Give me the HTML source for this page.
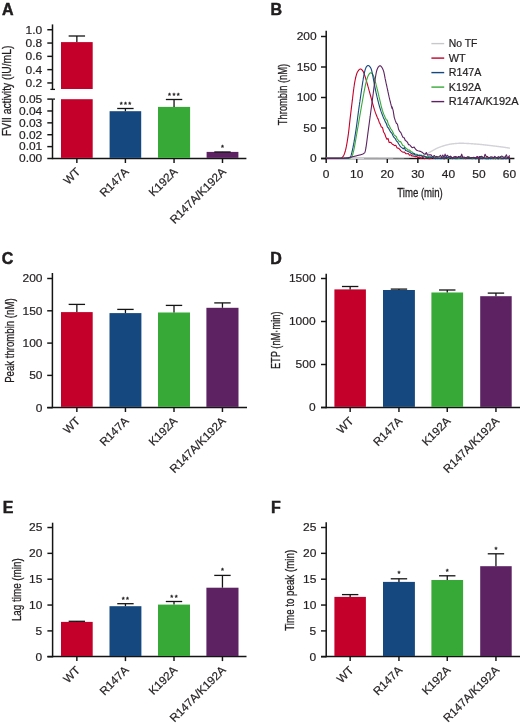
<!DOCTYPE html>
<html><head><meta charset="utf-8"><style>
html,body{margin:0;padding:0;background:#fff;}
body{width:520px;height:725px;overflow:hidden;}
svg{display:block;will-change:transform;}
text{font-family:"Liberation Sans",sans-serif;}
</style></head><body>
<svg width="520" height="725" viewBox="0 0 520 725" font-family="Liberation Sans, sans-serif" fill="#231f20">
<rect width="520" height="725" fill="#fff"/>
<text x="2.00" y="15.00" font-size="16" text-anchor="start" font-weight="bold" stroke="#111" stroke-width="0.45">A</text>
<line x1="52.50" y1="24.40" x2="52.50" y2="89.40" stroke="#141414" stroke-width="1.5"/>
<line x1="50.40" y1="89.40" x2="55.00" y2="89.40" stroke="#141414" stroke-width="1.3"/>
<line x1="52.50" y1="99.10" x2="52.50" y2="159.20" stroke="#141414" stroke-width="1.5"/>
<line x1="52.50" y1="99.10" x2="55.00" y2="99.10" stroke="#141414" stroke-width="1.3"/>
<line x1="47.30" y1="158.50" x2="246.40" y2="158.50" stroke="#141414" stroke-width="1.5"/>
<line x1="47.30" y1="29.75" x2="52.50" y2="29.75" stroke="#141414" stroke-width="1.45"/>
<text x="42.30" y="33.60" font-size="11.2" text-anchor="end" textLength="16.66" lengthAdjust="spacingAndGlyphs" stroke="#231f20" stroke-width="0.2">1.0</text>
<line x1="47.30" y1="43.05" x2="52.50" y2="43.05" stroke="#141414" stroke-width="1.45"/>
<text x="42.30" y="46.90" font-size="11.2" text-anchor="end" textLength="16.66" lengthAdjust="spacingAndGlyphs" stroke="#231f20" stroke-width="0.2">0.8</text>
<line x1="47.30" y1="56.35" x2="52.50" y2="56.35" stroke="#141414" stroke-width="1.45"/>
<text x="42.30" y="60.20" font-size="11.2" text-anchor="end" textLength="16.66" lengthAdjust="spacingAndGlyphs" stroke="#231f20" stroke-width="0.2">0.6</text>
<line x1="47.30" y1="69.65" x2="52.50" y2="69.65" stroke="#141414" stroke-width="1.45"/>
<text x="42.30" y="73.50" font-size="11.2" text-anchor="end" textLength="16.66" lengthAdjust="spacingAndGlyphs" stroke="#231f20" stroke-width="0.2">0.4</text>
<line x1="47.30" y1="82.95" x2="52.50" y2="82.95" stroke="#141414" stroke-width="1.45"/>
<text x="42.30" y="86.80" font-size="11.2" text-anchor="end" textLength="16.66" lengthAdjust="spacingAndGlyphs" stroke="#231f20" stroke-width="0.2">0.2</text>
<line x1="47.30" y1="99.10" x2="52.50" y2="99.10" stroke="#141414" stroke-width="1.45"/>
<text x="42.30" y="102.95" font-size="11.2" text-anchor="end" textLength="23.32" lengthAdjust="spacingAndGlyphs" stroke="#231f20" stroke-width="0.2">0.05</text>
<line x1="47.30" y1="110.98" x2="52.50" y2="110.98" stroke="#141414" stroke-width="1.45"/>
<text x="42.30" y="114.83" font-size="11.2" text-anchor="end" textLength="23.32" lengthAdjust="spacingAndGlyphs" stroke="#231f20" stroke-width="0.2">0.04</text>
<line x1="47.30" y1="122.86" x2="52.50" y2="122.86" stroke="#141414" stroke-width="1.45"/>
<text x="42.30" y="126.71" font-size="11.2" text-anchor="end" textLength="23.32" lengthAdjust="spacingAndGlyphs" stroke="#231f20" stroke-width="0.2">0.03</text>
<line x1="47.30" y1="134.74" x2="52.50" y2="134.74" stroke="#141414" stroke-width="1.45"/>
<text x="42.30" y="138.59" font-size="11.2" text-anchor="end" textLength="23.32" lengthAdjust="spacingAndGlyphs" stroke="#231f20" stroke-width="0.2">0.02</text>
<line x1="47.30" y1="146.62" x2="52.50" y2="146.62" stroke="#141414" stroke-width="1.45"/>
<text x="42.30" y="150.47" font-size="11.2" text-anchor="end" textLength="23.32" lengthAdjust="spacingAndGlyphs" stroke="#231f20" stroke-width="0.2">0.01</text>
<text x="42.30" y="162.35" font-size="11.2" text-anchor="end" textLength="23.32" lengthAdjust="spacingAndGlyphs" stroke="#231f20" stroke-width="0.2">0.00</text>
<rect x="61.00" y="42.10" width="31.70" height="46.90" fill="#c4002a"/>
<rect x="61.00" y="99.20" width="31.70" height="58.70" fill="#c4002a"/>
<line x1="76.85" y1="42.10" x2="76.85" y2="36.00" stroke="#141414" stroke-width="1.3"/>
<line x1="68.65" y1="36.00" x2="85.05" y2="36.00" stroke="#141414" stroke-width="1.3"/>
<rect x="109.60" y="111.20" width="31.60" height="46.70" fill="#14487e"/>
<line x1="125.40" y1="111.20" x2="125.40" y2="108.50" stroke="#141414" stroke-width="1.3"/>
<line x1="117.20" y1="108.50" x2="133.60" y2="108.50" stroke="#141414" stroke-width="1.3"/>
<rect x="158.00" y="106.90" width="32.10" height="51.00" fill="#37a936"/>
<line x1="174.05" y1="106.90" x2="174.05" y2="99.50" stroke="#141414" stroke-width="1.3"/>
<line x1="165.85" y1="99.50" x2="182.25" y2="99.50" stroke="#141414" stroke-width="1.3"/>
<rect x="206.60" y="151.90" width="31.80" height="6.00" fill="#5c2262"/>
<line x1="222.50" y1="151.90" x2="222.50" y2="152.00" stroke="#141414" stroke-width="1.3"/>
<line x1="214.30" y1="152.00" x2="230.70" y2="152.00" stroke="#141414" stroke-width="1.3"/>
<line x1="76.85" y1="158.50" x2="76.85" y2="163.00" stroke="#141414" stroke-width="1.45"/>
<text transform="translate(80.95,172.50) rotate(-45)" x="0" y="0" font-size="11.6" text-anchor="end" stroke="#231f20" stroke-width="0.2">WT</text>
<line x1="125.40" y1="158.50" x2="125.40" y2="163.00" stroke="#141414" stroke-width="1.45"/>
<text transform="translate(129.50,172.50) rotate(-45)" x="0" y="0" font-size="11.6" text-anchor="end" stroke="#231f20" stroke-width="0.2">R147A</text>
<line x1="174.05" y1="158.50" x2="174.05" y2="163.00" stroke="#141414" stroke-width="1.45"/>
<text transform="translate(178.15,172.50) rotate(-45)" x="0" y="0" font-size="11.6" text-anchor="end" stroke="#231f20" stroke-width="0.2">K192A</text>
<line x1="222.50" y1="158.50" x2="222.50" y2="163.00" stroke="#141414" stroke-width="1.45"/>
<text transform="translate(226.60,172.50) rotate(-45)" x="0" y="0" font-size="11.6" text-anchor="end" stroke="#231f20" stroke-width="0.2">R147A/K192A</text>
<text x="121.20" y="107.05" font-size="7.6" text-anchor="middle" stroke="#231f20" stroke-width="0.35">*</text>
<text x="125.50" y="107.05" font-size="7.6" text-anchor="middle" stroke="#231f20" stroke-width="0.35">*</text>
<text x="129.80" y="107.05" font-size="7.6" text-anchor="middle" stroke="#231f20" stroke-width="0.35">*</text>
<text x="169.60" y="97.75" font-size="7.6" text-anchor="middle" stroke="#231f20" stroke-width="0.35">*</text>
<text x="173.90" y="97.75" font-size="7.6" text-anchor="middle" stroke="#231f20" stroke-width="0.35">*</text>
<text x="178.20" y="97.75" font-size="7.6" text-anchor="middle" stroke="#231f20" stroke-width="0.35">*</text>
<text x="222.50" y="150.15" font-size="7.6" text-anchor="middle" stroke="#231f20" stroke-width="0.35">*</text>
<text transform="translate(11.30,90.85) rotate(-90)" x="0" y="0" font-size="13" text-anchor="middle" stroke="#231f20" stroke-width="0.3" textLength="90.30" lengthAdjust="spacingAndGlyphs">FVII activity (IU/mL)</text>
<text x="270.60" y="15.00" font-size="16" text-anchor="start" font-weight="bold" stroke="#111" stroke-width="0.45">B</text>
<line x1="326.20" y1="30.80" x2="326.20" y2="159.20" stroke="#141414" stroke-width="1.5"/>
<line x1="321.00" y1="158.50" x2="514.40" y2="158.50" stroke="#141414" stroke-width="1.5"/>
<line x1="321.00" y1="36.50" x2="326.20" y2="36.50" stroke="#141414" stroke-width="1.45"/>
<text x="316.70" y="40.35" font-size="11.2" text-anchor="end" textLength="19.99" lengthAdjust="spacingAndGlyphs" stroke="#231f20" stroke-width="0.2">200</text>
<line x1="321.00" y1="67.00" x2="326.20" y2="67.00" stroke="#141414" stroke-width="1.45"/>
<text x="316.70" y="70.85" font-size="11.2" text-anchor="end" textLength="19.99" lengthAdjust="spacingAndGlyphs" stroke="#231f20" stroke-width="0.2">150</text>
<line x1="321.00" y1="97.50" x2="326.20" y2="97.50" stroke="#141414" stroke-width="1.45"/>
<text x="316.70" y="101.35" font-size="11.2" text-anchor="end" textLength="19.99" lengthAdjust="spacingAndGlyphs" stroke="#231f20" stroke-width="0.2">100</text>
<line x1="321.00" y1="128.00" x2="326.20" y2="128.00" stroke="#141414" stroke-width="1.45"/>
<text x="316.70" y="131.85" font-size="11.2" text-anchor="end" textLength="13.33" lengthAdjust="spacingAndGlyphs" stroke="#231f20" stroke-width="0.2">50</text>
<line x1="321.00" y1="158.50" x2="326.20" y2="158.50" stroke="#141414" stroke-width="1.45"/>
<text x="316.70" y="162.35" font-size="11.2" text-anchor="end" textLength="6.66" lengthAdjust="spacingAndGlyphs" stroke="#231f20" stroke-width="0.2">0</text>
<line x1="326.20" y1="158.50" x2="326.20" y2="163.00" stroke="#141414" stroke-width="1.45"/>
<text x="326.20" y="178.40" font-size="11.2" text-anchor="middle" textLength="6.66" lengthAdjust="spacingAndGlyphs" stroke="#231f20" stroke-width="0.2">0</text>
<line x1="356.75" y1="158.50" x2="356.75" y2="163.00" stroke="#141414" stroke-width="1.45"/>
<text x="356.75" y="178.40" font-size="11.2" text-anchor="middle" textLength="13.33" lengthAdjust="spacingAndGlyphs" stroke="#231f20" stroke-width="0.2">10</text>
<line x1="387.30" y1="158.50" x2="387.30" y2="163.00" stroke="#141414" stroke-width="1.45"/>
<text x="387.30" y="178.40" font-size="11.2" text-anchor="middle" textLength="13.33" lengthAdjust="spacingAndGlyphs" stroke="#231f20" stroke-width="0.2">20</text>
<line x1="417.85" y1="158.50" x2="417.85" y2="163.00" stroke="#141414" stroke-width="1.45"/>
<text x="417.85" y="178.40" font-size="11.2" text-anchor="middle" textLength="13.33" lengthAdjust="spacingAndGlyphs" stroke="#231f20" stroke-width="0.2">30</text>
<line x1="448.40" y1="158.50" x2="448.40" y2="163.00" stroke="#141414" stroke-width="1.45"/>
<text x="448.40" y="178.40" font-size="11.2" text-anchor="middle" textLength="13.33" lengthAdjust="spacingAndGlyphs" stroke="#231f20" stroke-width="0.2">40</text>
<line x1="478.95" y1="158.50" x2="478.95" y2="163.00" stroke="#141414" stroke-width="1.45"/>
<text x="478.95" y="178.40" font-size="11.2" text-anchor="middle" textLength="13.33" lengthAdjust="spacingAndGlyphs" stroke="#231f20" stroke-width="0.2">50</text>
<line x1="509.50" y1="158.50" x2="509.50" y2="163.00" stroke="#141414" stroke-width="1.45"/>
<text x="509.50" y="178.40" font-size="11.2" text-anchor="middle" textLength="13.33" lengthAdjust="spacingAndGlyphs" stroke="#231f20" stroke-width="0.2">60</text>
<text x="420.00" y="196.50" font-size="13" text-anchor="middle" textLength="45.50" lengthAdjust="spacingAndGlyphs" stroke="#231f20" stroke-width="0.3">Time (min)</text>
<text transform="translate(287.40,94.50) rotate(-90)" x="0" y="0" font-size="13" text-anchor="middle" stroke="#231f20" stroke-width="0.3" textLength="61.30" lengthAdjust="spacingAndGlyphs">Thrombin (nM)</text>
<line x1="431.40" y1="43.60" x2="444.20" y2="43.60" stroke="#c8c8cc" stroke-width="1.4"/>
<text x="448.80" y="47.20" font-size="10.1" text-anchor="start" textLength="28.60" lengthAdjust="spacingAndGlyphs" stroke="#231f20" stroke-width="0.2">No TF</text>
<line x1="431.40" y1="58.10" x2="444.20" y2="58.10" stroke="#c4002a" stroke-width="1.4"/>
<text x="448.80" y="61.70" font-size="10.1" text-anchor="start" textLength="16.90" lengthAdjust="spacingAndGlyphs" stroke="#231f20" stroke-width="0.2">WT</text>
<line x1="431.40" y1="72.60" x2="444.20" y2="72.60" stroke="#14487e" stroke-width="1.4"/>
<text x="448.80" y="76.20" font-size="10.1" text-anchor="start" textLength="32.60" lengthAdjust="spacingAndGlyphs" stroke="#231f20" stroke-width="0.2">R147A</text>
<line x1="431.40" y1="87.10" x2="444.20" y2="87.10" stroke="#37a936" stroke-width="1.4"/>
<text x="448.80" y="90.70" font-size="10.1" text-anchor="start" textLength="32.40" lengthAdjust="spacingAndGlyphs" stroke="#231f20" stroke-width="0.2">K192A</text>
<line x1="431.40" y1="101.60" x2="444.20" y2="101.60" stroke="#5c2262" stroke-width="1.4"/>
<text x="448.80" y="105.20" font-size="10.1" text-anchor="start" textLength="69.80" lengthAdjust="spacingAndGlyphs" stroke="#231f20" stroke-width="0.2">R147A/K192A</text>
<polyline points="326.00,158.30 326.18,158.30 326.36,158.30 326.56,158.30 326.75,158.30 326.96,158.30 327.17,158.30 327.38,158.30 327.61,158.30 327.83,158.30 328.07,158.30 328.31,158.29 328.55,158.29 328.80,158.29 329.06,158.29 329.32,158.29 329.58,158.29 329.86,158.29 330.13,158.29 330.41,158.29 330.70,158.29 330.99,158.29 331.29,158.29 331.59,158.29 331.89,158.29 332.20,158.29 332.51,158.29 332.83,158.29 333.15,158.29 333.48,158.29 333.81,158.29 334.14,158.29 334.48,158.29 334.82,158.28 335.16,158.28 335.51,158.28 335.86,158.28 336.22,158.28 336.58,158.28 336.94,158.28 337.30,158.28 337.67,158.28 338.04,158.28 338.41,158.28 338.78,158.28 339.16,158.28 339.54,158.28 339.92,158.28 340.31,158.28 340.69,158.27 341.08,158.27 341.47,158.27 341.87,158.27 342.26,158.27 342.66,158.27 343.05,158.27 343.45,158.27 343.85,158.27 344.26,158.27 344.66,158.27 345.06,158.26 345.47,158.26 345.88,158.26 346.28,158.26 346.69,158.26 347.10,158.26 347.51,158.26 347.92,158.26 348.33,158.26 348.74,158.25 349.15,158.25 349.56,158.25 349.97,158.25 350.38,158.25 350.79,158.25 351.21,158.25 351.62,158.24 352.03,158.24 352.44,158.24 352.84,158.24 353.25,158.24 353.66,158.23 354.07,158.23 354.47,158.23 354.88,158.23 355.28,158.23 355.68,158.23 356.08,158.22 356.48,158.22 356.88,158.22 357.28,158.22 357.67,158.21 358.07,158.21 358.46,158.21 358.85,158.21 359.23,158.21 359.62,158.20 360.00,158.20 360.33,158.20 360.65,158.20 360.99,158.19 361.32,158.19 361.66,158.19 362.00,158.19 362.34,158.18 362.68,158.18 363.03,158.18 363.37,158.18 363.72,158.18 364.08,158.17 364.43,158.17 364.79,158.17 365.15,158.17 365.51,158.16 365.87,158.16 366.23,158.16 366.60,158.16 366.96,158.16 367.33,158.15 367.70,158.15 368.07,158.15 368.45,158.15 368.82,158.14 369.20,158.14 369.57,158.14 369.95,158.14 370.33,158.13 370.71,158.13 371.09,158.13 371.47,158.13 371.85,158.12 372.24,158.12 372.62,158.12 373.01,158.12 373.39,158.11 373.78,158.11 374.16,158.11 374.55,158.11 374.94,158.10 375.32,158.10 375.71,158.10 376.10,158.09 376.49,158.09 376.88,158.09 377.26,158.09 377.65,158.08 378.04,158.08 378.43,158.08 378.81,158.07 379.20,158.07 379.59,158.07 379.97,158.07 380.36,158.06 380.74,158.06 381.12,158.06 381.51,158.05 381.89,158.05 382.27,158.05 382.65,158.04 383.03,158.04 383.41,158.04 383.79,158.03 384.17,158.03 384.54,158.03 384.92,158.02 385.29,158.02 385.66,158.02 386.03,158.01 386.40,158.01 386.77,158.00 387.14,158.00 387.50,158.00 387.86,157.99 388.22,157.99 388.58,157.98 388.94,157.98 389.29,157.98 389.65,157.97 390.00,157.97 390.34,157.96 390.69,157.96 391.04,157.96 391.38,157.95 391.72,157.95 392.05,157.94 392.39,157.94 392.72,157.93 393.05,157.93 393.38,157.92 393.70,157.92 394.02,157.91 394.34,157.91 394.65,157.90 394.96,157.90 395.27,157.89 395.58,157.89 395.88,157.88 396.18,157.88 396.48,157.87 396.77,157.87 397.06,157.86 397.35,157.86 397.63,157.85 397.91,157.85 398.18,157.84 398.45,157.84 398.72,157.83 398.98,157.82 399.24,157.82 399.50,157.81 399.75,157.81 400.00,157.80 400.61,157.78 401.21,157.77 401.78,157.75 402.34,157.74 402.88,157.72 403.40,157.70 403.90,157.68 404.39,157.67 404.86,157.65 405.32,157.63 405.77,157.61 406.20,157.59 406.61,157.57 407.02,157.55 407.41,157.53 407.79,157.51 408.15,157.49 408.51,157.47 408.86,157.45 409.20,157.43 409.52,157.41 409.84,157.39 410.15,157.36 410.46,157.34 410.75,157.32 411.04,157.30 411.33,157.27 411.61,157.25 411.88,157.22 412.15,157.20 412.41,157.18 412.67,157.15 412.93,157.13 413.19,157.10 413.44,157.07 413.70,157.05 413.95,157.02 414.20,156.99 414.45,156.97 414.71,156.94 414.96,156.91 415.22,156.89 415.47,156.86 415.74,156.83 416.00,156.80 416.51,156.74 416.99,156.69 417.44,156.64 417.87,156.59 418.27,156.54 418.66,156.49 419.03,156.44 419.38,156.39 419.72,156.34 420.04,156.28 420.35,156.23 420.66,156.17 420.96,156.11 421.25,156.04 421.54,155.97 421.83,155.90 422.12,155.82 422.42,155.73 422.71,155.64 423.02,155.54 423.34,155.44 423.66,155.32 424.00,155.20 424.32,155.08 424.64,154.95 424.96,154.81 425.29,154.66 425.62,154.51 425.94,154.35 426.27,154.18 426.60,154.01 426.93,153.84 427.25,153.66 427.58,153.48 427.91,153.29 428.23,153.11 428.55,152.92 428.87,152.73 429.19,152.55 429.51,152.36 429.82,152.18 430.13,152.00 430.44,151.82 430.74,151.64 431.04,151.47 431.33,151.31 431.62,151.15 431.90,151.00 432.26,150.81 432.61,150.62 432.95,150.43 433.27,150.25 433.59,150.07 433.90,149.90 434.21,149.72 434.51,149.55 434.81,149.38 435.11,149.22 435.41,149.05 435.71,148.89 436.02,148.73 436.33,148.57 436.64,148.42 436.97,148.26 437.30,148.11 437.64,147.95 438.00,147.80 438.30,147.67 438.62,147.55 438.94,147.42 439.26,147.30 439.59,147.17 439.93,147.05 440.27,146.92 440.62,146.80 440.96,146.68 441.31,146.56 441.66,146.44 442.01,146.32 442.36,146.21 442.71,146.10 443.06,145.98 443.41,145.88 443.75,145.77 444.09,145.67 444.42,145.57 444.75,145.47 445.08,145.38 445.39,145.29 445.70,145.20 446.08,145.09 446.46,144.99 446.82,144.90 447.18,144.81 447.53,144.73 447.88,144.64 448.22,144.57 448.56,144.49 448.89,144.43 449.23,144.36 449.56,144.29 449.90,144.23 450.24,144.17 450.58,144.12 450.93,144.06 451.28,144.01 451.63,143.95 452.00,143.90 452.33,143.85 452.67,143.81 453.01,143.77 453.36,143.72 453.70,143.68 454.05,143.65 454.40,143.61 454.75,143.58 455.10,143.54 455.46,143.51 455.81,143.48 456.17,143.46 456.52,143.43 456.88,143.41 457.23,143.38 457.59,143.36 457.94,143.35 458.30,143.33 458.65,143.31 459.00,143.30 459.35,143.29 459.70,143.28 460.04,143.27 460.38,143.27 460.73,143.27 461.07,143.27 461.41,143.27 461.75,143.27 462.09,143.28 462.44,143.28 462.78,143.29 463.13,143.30 463.48,143.31 463.83,143.32 464.18,143.33 464.54,143.34 464.90,143.36 465.26,143.37 465.63,143.39 466.00,143.40 466.34,143.41 466.69,143.43 467.04,143.45 467.39,143.46 467.75,143.48 468.11,143.50 468.47,143.52 468.84,143.54 469.20,143.57 469.57,143.59 469.94,143.61 470.31,143.64 470.68,143.66 471.05,143.69 471.42,143.71 471.79,143.74 472.16,143.76 472.53,143.79 472.90,143.82 473.27,143.85 473.64,143.87 474.00,143.90 474.36,143.93 474.73,143.96 475.09,143.98 475.45,144.01 475.82,144.04 476.18,144.07 476.55,144.10 476.91,144.13 477.27,144.16 477.64,144.19 478.00,144.22 478.36,144.26 478.73,144.29 479.09,144.32 479.45,144.36 479.82,144.39 480.18,144.42 480.55,144.46 480.91,144.49 481.27,144.53 481.64,144.56 482.00,144.60 482.35,144.63 482.69,144.67 483.04,144.71 483.38,144.74 483.72,144.78 484.06,144.82 484.40,144.85 484.74,144.89 485.08,144.93 485.42,144.97 485.77,145.01 486.11,145.04 486.45,145.08 486.80,145.12 487.14,145.16 487.49,145.20 487.84,145.25 488.19,145.29 488.55,145.33 488.91,145.37 489.27,145.41 489.63,145.46 490.00,145.50 490.34,145.54 490.69,145.58 491.05,145.62 491.42,145.67 491.78,145.71 492.16,145.76 492.53,145.80 492.91,145.85 493.29,145.89 493.67,145.94 494.05,145.99 494.43,146.03 494.81,146.08 495.19,146.13 495.57,146.17 495.94,146.22 496.31,146.26 496.67,146.31 497.03,146.35 497.38,146.40 497.72,146.44 498.05,146.48 498.38,146.52 498.69,146.56 499.00,146.60 499.43,146.65 499.85,146.71 500.25,146.76 500.64,146.81 501.02,146.86 501.38,146.90 501.73,146.95 502.08,147.00 502.42,147.04 502.75,147.09 503.08,147.13 503.40,147.17 503.72,147.22 504.04,147.26 504.36,147.31 504.68,147.35 505.00,147.40 505.40,147.46 505.81,147.52 506.23,147.59 506.65,147.65 507.06,147.72 507.48,147.78 507.88,147.85 508.26,147.91 508.62,147.97 508.97,148.03 509.28,148.08 509.56,148.13 509.80,148.17 510.00,148.20" fill="none" stroke="#d2d2d8" stroke-width="1.4" stroke-linejoin="round"/>
<polyline points="326.00,158.30 326.19,158.30 326.42,158.30 326.67,158.30 326.94,158.30 327.24,158.29 327.56,158.29 327.89,158.29 328.25,158.29 328.62,158.29 329.00,158.29 329.40,158.29 329.80,158.29 330.21,158.29 330.63,158.29 331.05,158.29 331.48,158.28 331.90,158.28 332.32,158.28 332.74,158.27 333.15,158.27 333.55,158.26 333.95,158.26 334.33,158.25 334.70,158.24 335.05,158.23 335.39,158.22 335.70,158.21 336.00,158.20 336.49,158.19 336.95,158.19 337.40,158.20 337.82,158.23 338.23,158.25 338.62,158.28 339.00,158.30 339.36,158.31 339.71,158.30 340.05,158.29 340.38,158.25 340.70,158.18 341.01,158.09 341.31,157.97 341.61,157.80 341.90,157.60 342.12,157.42 342.32,157.24 342.52,157.05 342.71,156.84 342.90,156.63 343.07,156.40 343.24,156.16 343.40,155.91 343.56,155.64 343.72,155.35 343.87,155.05 344.02,154.74 344.16,154.40 344.30,154.05 344.45,153.68 344.59,153.29 344.73,152.88 344.87,152.44 345.01,151.98 345.15,151.50 345.30,151.00 345.37,150.74 345.44,150.48 345.52,150.21 345.59,149.93 345.66,149.65 345.73,149.36 345.80,149.06 345.87,148.76 345.94,148.45 346.01,148.13 346.08,147.81 346.14,147.48 346.21,147.15 346.28,146.82 346.35,146.48 346.42,146.13 346.48,145.78 346.55,145.43 346.62,145.07 346.68,144.71 346.75,144.35 346.81,143.98 346.88,143.61 346.94,143.23 347.01,142.86 347.07,142.48 347.14,142.10 347.20,141.72 347.26,141.33 347.32,140.95 347.39,140.56 347.45,140.18 347.51,139.79 347.57,139.40 347.63,139.01 347.69,138.62 347.75,138.23 347.81,137.84 347.87,137.45 347.93,137.06 347.99,136.67 348.04,136.29 348.10,135.90 348.15,135.57 348.20,135.25 348.24,134.91 348.29,134.58 348.33,134.24 348.38,133.91 348.42,133.57 348.47,133.22 348.51,132.88 348.56,132.53 348.60,132.18 348.64,131.83 348.69,131.48 348.73,131.13 348.77,130.77 348.81,130.42 348.86,130.06 348.90,129.70 348.94,129.34 348.98,128.98 349.02,128.62 349.06,128.26 349.10,127.90 349.14,127.53 349.18,127.17 349.22,126.81 349.26,126.44 349.30,126.08 349.34,125.71 349.38,125.35 349.42,124.99 349.46,124.62 349.49,124.26 349.53,123.90 349.57,123.53 349.61,123.17 349.65,122.81 349.69,122.45 349.73,122.09 349.77,121.74 349.81,121.38 349.84,121.02 349.88,120.67 349.92,120.32 349.96,119.97 350.00,119.62 350.04,119.27 350.08,118.92 350.12,118.58 350.16,118.24 350.20,117.90 350.24,117.53 350.29,117.17 350.33,116.81 350.37,116.44 350.42,116.08 350.46,115.72 350.50,115.36 350.55,115.00 350.59,114.65 350.63,114.29 350.67,113.94 350.72,113.58 350.76,113.23 350.80,112.88 350.84,112.53 350.88,112.18 350.93,111.83 350.97,111.48 351.01,111.13 351.05,110.78 351.09,110.43 351.14,110.08 351.18,109.74 351.22,109.39 351.26,109.04 351.31,108.70 351.35,108.35 351.39,108.00 351.43,107.66 351.47,107.31 351.52,106.97 351.56,106.62 351.60,106.28 351.64,105.93 351.68,105.58 351.73,105.24 351.77,104.89 351.81,104.54 351.85,104.20 351.90,103.85 351.94,103.50 351.98,103.15 352.03,102.80 352.07,102.45 352.11,102.10 352.16,101.75 352.20,101.40 352.24,101.05 352.29,100.69 352.33,100.33 352.38,99.97 352.42,99.60 352.46,99.24 352.51,98.87 352.55,98.50 352.60,98.13 352.64,97.76 352.68,97.38 352.73,97.01 352.77,96.63 352.82,96.26 352.86,95.88 352.91,95.50 352.95,95.13 353.00,94.75 353.04,94.38 353.09,94.00 353.13,93.63 353.18,93.25 353.22,92.88 353.27,92.51 353.31,92.14 353.36,91.77 353.40,91.41 353.45,91.04 353.49,90.68 353.54,90.32 353.58,89.97 353.63,89.61 353.67,89.26 353.72,88.92 353.76,88.57 353.81,88.23 353.85,87.90 353.90,87.57 353.94,87.24 353.99,86.92 354.03,86.60 354.08,86.29 354.12,85.98 354.17,85.68 354.21,85.38 354.26,85.09 354.30,84.80 354.37,84.35 354.45,83.90 354.52,83.46 354.59,83.03 354.66,82.61 354.74,82.20 354.81,81.80 354.88,81.40 354.96,81.02 355.03,80.64 355.10,80.27 355.17,79.90 355.25,79.55 355.32,79.20 355.39,78.86 355.47,78.52 355.54,78.19 355.61,77.87 355.68,77.56 355.76,77.26 355.83,76.96 355.90,76.67 355.97,76.38 356.04,76.10 356.12,75.83 356.19,75.56 356.26,75.30 356.33,75.05 356.40,74.80 356.56,74.28 356.71,73.81 356.87,73.38 357.02,72.99 357.17,72.64 357.32,72.32 357.48,72.03 357.63,71.76 357.78,71.51 357.93,71.27 358.09,71.04 358.24,70.82 358.40,70.60 358.70,70.21 359.00,69.87 359.30,69.57 359.61,69.34 359.91,69.16 360.21,69.05 360.50,69.00 360.83,69.04 361.16,69.19 361.48,69.41 361.80,69.70 362.10,70.04 362.40,70.40 362.58,70.63 362.75,70.86 362.91,71.08 363.07,71.33 363.23,71.61 363.40,71.94 363.58,72.34 363.78,72.82 364.00,73.40 364.09,73.63 364.18,73.88 364.27,74.13 364.36,74.39 364.46,74.67 364.55,74.95 364.65,75.24 364.75,75.54 364.86,75.85 364.96,76.16 365.07,76.49 365.18,76.82 365.29,77.17 365.40,77.51 365.51,77.87 365.62,78.24 365.74,78.61 365.85,78.98 365.97,79.37 366.09,79.76 366.21,80.16 366.33,80.56 366.45,80.97 366.58,81.38 366.70,81.80 366.78,82.09 366.87,82.38 366.96,82.68 367.04,82.99 367.13,83.30 367.22,83.62 367.31,83.94 367.41,84.27 367.50,84.60 367.59,84.93 367.68,85.27 367.78,85.61 367.87,85.96 367.97,86.30 368.07,86.66 368.16,87.01 368.26,87.36 368.36,87.72 368.46,88.08 368.55,88.44 368.65,88.80 368.75,89.16 368.85,89.53 368.95,89.89 369.04,90.25 369.14,90.61 369.24,90.97 369.34,91.34 369.44,91.70 369.53,92.05 369.63,92.41 369.73,92.76 369.82,93.12 369.92,93.47 370.01,93.81 370.11,94.16 370.20,94.50 370.30,94.85 370.39,95.20 370.49,95.56 370.59,95.91 370.68,96.27 370.78,96.63 370.88,96.99 370.97,97.35 371.07,97.72 371.17,98.08 371.27,98.44 371.36,98.81 371.46,99.17 371.56,99.53 371.65,99.90 371.75,100.26 371.85,100.62 371.94,100.98 372.04,101.33 372.14,101.69 372.23,102.04 372.33,102.39 372.42,102.74 372.51,103.08 372.61,103.42 372.70,103.76 372.79,104.10 372.89,104.43 372.98,104.75 373.07,105.07 373.16,105.39 373.25,105.70 373.34,106.01 373.43,106.31 373.51,106.61 373.60,106.90 373.72,107.31 373.84,107.70 373.96,108.08 374.07,108.45 374.18,108.80 374.29,109.15 374.39,109.48 374.50,109.81 374.60,110.14 374.70,110.45 374.80,110.76 374.91,111.07 375.01,111.38 375.11,111.68 375.22,111.98 375.32,112.29 375.43,112.59 375.54,112.90 375.65,113.21 375.77,113.52 375.89,113.84 376.01,114.17 376.13,114.50 376.26,114.85 376.40,115.20 376.52,115.51 376.64,115.82 376.77,116.14 376.90,116.46 377.03,116.78 377.16,117.10 377.30,117.42 377.43,117.75 377.57,118.08 377.71,118.41 377.86,118.74 378.00,119.07 378.14,118.82 379.18,122.19 380.21,124.12 381.34,127.02 382.46,127.45 383.58,132.00 384.70,133.70 385.83,137.03 386.94,139.37 388.06,138.47 389.07,142.43 390.16,142.35 391.24,142.87 392.34,144.28 393.47,144.81 394.62,145.65 395.80,145.23 397.00,147.88 398.20,148.11 399.42,148.96 400.67,150.56 402.00,151.70 403.21,152.21 404.49,152.07 405.79,153.69 407.08,153.72 408.38,153.56 409.40,155.20 410.72,154.71 412.03,156.01 413.36,155.91 414.39,156.43 415.39,156.71 416.43,156.06 417.58,157.45 418.58,157.45 419.70,156.96 420.88,158.43 421.88,157.84 423.06,157.45 424.47,158.70 425.48,157.96 426.55,158.17 427.66,157.37 428.79,158.70 429.91,158.61 431.03,158.28 432.45,156.73 433.59,158.38 434.90,158.28 436.39,158.06 438.09,158.35 440.00,158.48 441.12,157.55 442.34,157.79 443.39,158.70 444.51,158.70 445.68,157.92 446.91,157.78 448.19,157.54 449.52,156.68 450.55,157.16 451.60,157.37 452.68,158.66 453.78,158.04 454.90,157.56 456.04,158.19 457.19,157.70 458.37,158.34 459.56,158.49 460.77,156.65 461.99,157.38 463.22,158.61 464.46,157.88 465.72,158.70 466.98,157.88 468.25,158.15 469.52,158.04 470.80,157.61 472.08,158.70 473.37,158.01 474.65,158.02 475.94,158.70 477.22,156.51 478.50,157.58 479.78,158.70 481.05,157.79 482.31,158.70 483.57,158.33 484.81,158.07 486.05,158.59 487.27,156.56 488.49,157.99 489.68,158.03 490.86,158.01 492.03,158.03 493.17,158.70 494.30,157.85 495.41,158.70 496.49,158.06 497.55,158.61 498.59,158.70 499.60,157.75 500.91,158.70 502.16,158.70 503.36,158.70 504.50,158.05 505.59,158.70 506.61,158.70 507.79,157.72 508.86,156.82 510.00,158.70" fill="none" stroke="#c4002a" stroke-width="1.1" stroke-linejoin="round"/>
<polyline points="326.00,158.30 326.18,158.30 326.39,158.30 326.60,158.30 326.84,158.30 327.09,158.30 327.35,158.30 327.63,158.30 327.92,158.30 328.22,158.29 328.53,158.29 328.86,158.29 329.20,158.29 329.54,158.29 329.90,158.29 330.27,158.29 330.64,158.29 331.02,158.29 331.41,158.29 331.81,158.29 332.21,158.29 332.61,158.29 333.03,158.29 333.44,158.29 333.86,158.29 334.28,158.29 334.71,158.29 335.13,158.29 335.56,158.29 335.98,158.29 336.41,158.28 336.84,158.28 337.26,158.28 337.68,158.28 338.10,158.28 338.52,158.28 338.93,158.27 339.34,158.27 339.74,158.27 340.14,158.27 340.53,158.26 340.92,158.26 341.29,158.26 341.66,158.25 342.02,158.25 342.37,158.25 342.71,158.24 343.04,158.24 343.36,158.23 343.67,158.23 343.96,158.22 344.24,158.22 344.51,158.21 344.76,158.21 345.00,158.20 345.73,158.19 346.39,158.19 346.96,158.20 347.47,158.23 347.92,158.25 348.31,158.28 348.66,158.30 348.97,158.31 349.25,158.30 349.50,158.29 349.73,158.25 349.96,158.18 350.18,158.09 350.41,157.97 350.64,157.80 350.90,157.60 351.11,157.42 351.30,157.24 351.47,157.06 351.63,156.87 351.78,156.67 351.92,156.46 352.05,156.24 352.17,156.00 352.29,155.75 352.40,155.47 352.51,155.17 352.62,154.84 352.72,154.49 352.83,154.10 352.94,153.68 353.06,153.23 353.18,152.74 353.31,152.20 353.45,151.62 353.60,151.00 353.66,150.77 353.71,150.52 353.77,150.27 353.82,150.02 353.88,149.76 353.94,149.49 354.00,149.21 354.06,148.93 354.11,148.65 354.17,148.35 354.23,148.06 354.29,147.75 354.35,147.44 354.41,147.13 354.47,146.81 354.53,146.49 354.59,146.16 354.66,145.83 354.72,145.49 354.78,145.16 354.84,144.81 354.90,144.46 354.97,144.11 355.03,143.76 355.09,143.40 355.15,143.04 355.22,142.68 355.28,142.31 355.34,141.94 355.41,141.57 355.47,141.20 355.54,140.83 355.60,140.45 355.67,140.07 355.73,139.69 355.80,139.31 355.86,138.93 355.92,138.55 355.99,138.17 356.05,137.78 356.12,137.40 356.19,137.01 356.25,136.63 356.32,136.24 356.38,135.86 356.45,135.48 356.51,135.09 356.58,134.71 356.64,134.33 356.71,133.95 356.77,133.57 356.84,133.19 356.90,132.82 356.97,132.44 357.03,132.07 357.10,131.70 357.16,131.37 357.22,131.04 357.28,130.71 357.33,130.37 357.39,130.03 357.45,129.69 357.51,129.35 357.57,129.01 357.63,128.66 357.69,128.32 357.75,127.97 357.81,127.62 357.87,127.27 357.94,126.92 358.00,126.56 358.06,126.21 358.12,125.85 358.18,125.49 358.24,125.14 358.30,124.78 358.37,124.42 358.43,124.06 358.49,123.70 358.55,123.34 358.61,122.97 358.68,122.61 358.74,122.25 358.80,121.89 358.86,121.53 358.93,121.16 358.99,120.80 359.05,120.44 359.11,120.08 359.17,119.71 359.24,119.35 359.30,118.99 359.36,118.63 359.42,118.27 359.48,117.91 359.54,117.55 359.61,117.19 359.67,116.84 359.73,116.48 359.79,116.13 359.85,115.77 359.91,115.42 359.97,115.07 360.03,114.72 360.09,114.37 360.15,114.03 360.21,113.68 360.27,113.34 360.33,113.00 360.39,112.66 360.44,112.32 360.50,111.98 360.56,111.65 360.62,111.32 360.67,110.99 360.73,110.66 360.79,110.34 360.84,110.02 360.90,109.70 360.97,109.32 361.03,108.93 361.10,108.55 361.17,108.17 361.23,107.78 361.30,107.40 361.37,107.02 361.43,106.64 361.50,106.27 361.56,105.89 361.63,105.51 361.69,105.14 361.76,104.76 361.82,104.39 361.89,104.02 361.95,103.65 362.02,103.28 362.08,102.91 362.14,102.55 362.21,102.19 362.27,101.82 362.33,101.46 362.39,101.10 362.46,100.75 362.52,100.39 362.58,100.04 362.64,99.69 362.70,99.34 362.77,98.99 362.83,98.64 362.89,98.30 362.95,97.96 363.01,97.62 363.07,97.29 363.13,96.95 363.19,96.62 363.25,96.29 363.30,95.97 363.36,95.64 363.42,95.32 363.48,95.00 363.54,94.69 363.60,94.38 363.65,94.07 363.71,93.76 363.77,93.46 363.82,93.15 363.88,92.86 363.93,92.56 363.99,92.27 364.05,91.98 364.10,91.70 364.19,91.26 364.27,90.82 364.35,90.39 364.44,89.97 364.52,89.56 364.60,89.15 364.68,88.75 364.76,88.35 364.84,87.96 364.92,87.58 365.00,87.20 365.07,86.83 365.15,86.46 365.23,86.10 365.30,85.75 365.38,85.40 365.45,85.06 365.52,84.72 365.60,84.39 365.67,84.07 365.74,83.75 365.81,83.43 365.89,83.12 365.96,82.82 366.03,82.52 366.10,82.23 366.17,81.94 366.24,81.65 366.32,81.37 366.39,81.10 366.46,80.83 366.53,80.56 366.60,80.30 366.74,79.81 366.87,79.34 367.00,78.90 367.14,78.48 367.27,78.08 367.39,77.71 367.52,77.35 367.65,77.01 367.78,76.68 367.90,76.38 368.03,76.09 368.15,75.81 368.28,75.55 368.41,75.29 368.54,75.05 368.67,74.82 368.80,74.60 369.08,74.16 369.36,73.76 369.63,73.42 369.91,73.14 370.20,72.94 370.49,72.83 370.79,72.81 371.10,72.90 371.30,73.00 371.50,73.12 371.70,73.27 371.91,73.45 372.12,73.65 372.33,73.90 372.55,74.18 372.76,74.51 372.99,74.89 373.21,75.31 373.44,75.78 373.67,76.31 373.90,76.90 373.99,77.14 374.08,77.39 374.17,77.65 374.26,77.93 374.35,78.21 374.44,78.51 374.54,78.82 374.63,79.14 374.73,79.46 374.83,79.80 374.92,80.14 375.02,80.49 375.12,80.85 375.22,81.21 375.32,81.58 375.41,81.95 375.51,82.32 375.61,82.70 375.71,83.08 375.81,83.47 375.91,83.85 376.00,84.24 376.10,84.62 376.20,85.00 376.29,85.39 376.39,85.77 376.48,86.15 376.58,86.52 376.67,86.89 376.76,87.26 376.85,87.62 376.94,87.98 377.03,88.32 377.11,88.67 377.20,89.00 377.29,89.36 377.38,89.72 377.47,90.07 377.56,90.43 377.64,90.78 377.73,91.13 377.81,91.48 377.89,91.83 377.98,92.17 378.06,92.52 378.14,92.86 378.22,93.21 378.30,93.55 378.38,93.89 378.45,94.23 378.53,94.57 378.61,94.91 378.69,95.25 378.76,95.59 378.84,95.92 378.92,96.26 379.00,96.60 379.07,96.94 379.15,97.28 379.23,97.61 379.31,97.95 379.39,98.29 379.47,98.63 379.55,98.97 379.63,99.31 379.72,99.66 379.80,100.00 379.88,100.34 379.97,100.69 380.05,101.04 380.13,101.38 380.21,101.73 380.29,102.08 380.37,102.43 380.46,102.78 380.54,103.13 380.62,103.48 380.70,103.83 380.78,104.18 380.86,104.53 380.94,104.88 381.02,105.23 381.11,105.58 381.19,105.93 381.27,106.28 381.36,106.62 381.45,106.97 381.53,107.31 381.62,107.66 381.71,108.00 381.80,108.34 381.90,108.68 381.99,109.02 382.09,109.35 382.19,109.69 382.29,110.02 382.39,110.35 382.49,110.68 382.60,111.00 382.72,111.34 382.84,111.69 382.96,112.03 383.08,112.37 383.21,112.71 383.34,113.05 383.47,113.38 383.60,113.72 383.73,114.05 383.87,114.38 384.00,114.71 384.14,115.04 384.28,115.37 384.42,115.69 384.56,116.02 384.70,116.34 384.85,116.66 384.99,116.98 385.13,117.30 385.28,117.62 385.42,117.93 385.57,118.25 385.71,118.56 385.85,118.87 386.00,119.18 386.14,120.03 387.18,120.07 388.34,124.40 389.50,126.16 390.60,128.59 391.70,130.00 392.81,132.08 393.91,134.50 395.05,135.76 396.17,136.41 397.24,138.99 398.42,140.34 399.59,141.81 400.63,141.61 401.70,143.49 402.75,145.55 403.98,145.71 405.12,147.47 406.24,148.52 407.30,149.18 408.41,150.18 409.59,149.98 410.81,151.44 412.08,151.98 413.35,153.17 414.60,153.70 415.61,154.22 416.91,154.25 418.22,155.27 419.26,155.07 420.32,155.18 421.63,155.32 422.65,155.67 423.70,155.93 424.79,156.62 425.92,156.59 427.03,156.86 428.37,156.62 429.40,157.65 430.46,156.77 431.55,157.70 432.67,157.19 433.82,157.16 435.00,157.53 436.04,157.40 437.30,158.61 438.59,157.88 439.88,158.16 441.57,157.71 442.59,157.89 443.73,157.79 445.00,157.73 446.08,157.73 447.27,157.81 448.31,158.55 449.42,157.77 450.60,156.97 451.83,158.46 453.13,157.86 454.13,157.77 455.17,158.65 456.23,158.70 457.32,158.70 458.44,158.30 459.57,158.53 460.73,157.86 461.91,157.75 463.11,158.21 464.32,157.91 465.55,158.05 466.79,157.22 468.05,157.09 469.31,156.88 470.59,158.35 471.87,158.70 473.16,158.01 474.45,158.03 475.75,158.48 477.04,158.58 478.34,158.24 479.64,156.77 480.93,157.86 482.22,157.14 483.50,158.00 484.77,158.35 486.04,158.10 487.29,157.98 488.54,158.70 489.76,158.24 490.98,157.45 492.17,158.35 493.35,157.83 494.51,158.15 495.64,158.70 496.76,158.06 497.85,157.08 498.91,157.83 499.94,158.70 500.95,157.73 502.24,158.20 503.47,157.95 504.65,157.79 505.75,158.15 506.79,157.79 507.98,157.93 509.06,158.17" fill="none" stroke="#37a936" stroke-width="1.1" stroke-linejoin="round"/>
<polyline points="326.00,158.30 326.19,158.30 326.39,158.30 326.61,158.30 326.85,158.30 327.10,158.30 327.37,158.30 327.65,158.30 327.95,158.30 328.26,158.29 328.58,158.29 328.92,158.29 329.26,158.29 329.62,158.29 329.98,158.29 330.36,158.29 330.74,158.29 331.13,158.29 331.53,158.29 331.93,158.29 332.34,158.29 332.75,158.29 333.17,158.29 333.59,158.29 334.02,158.29 334.44,158.29 334.87,158.29 335.30,158.29 335.73,158.28 336.15,158.28 336.58,158.28 337.01,158.28 337.43,158.28 337.85,158.28 338.26,158.27 338.67,158.27 339.07,158.27 339.47,158.27 339.86,158.26 340.24,158.26 340.62,158.26 340.98,158.25 341.34,158.25 341.69,158.24 342.02,158.24 342.34,158.24 342.66,158.23 342.95,158.22 343.24,158.22 343.51,158.21 343.76,158.21 344.00,158.20 344.74,158.19 345.38,158.19 345.94,158.21 346.44,158.23 346.86,158.26 347.23,158.28 347.56,158.30 347.85,158.31 348.10,158.30 348.34,158.26 348.56,158.20 348.78,158.11 349.00,157.98 349.24,157.82 349.50,157.60 349.70,157.42 349.88,157.24 350.05,157.06 350.21,156.87 350.35,156.67 350.49,156.46 350.62,156.24 350.74,156.00 350.86,155.75 350.98,155.47 351.09,155.17 351.20,154.84 351.31,154.49 351.42,154.10 351.53,153.68 351.65,153.23 351.78,152.74 351.91,152.20 352.05,151.62 352.20,151.00 352.26,150.77 352.31,150.52 352.37,150.28 352.43,150.02 352.48,149.76 352.54,149.50 352.60,149.22 352.66,148.95 352.72,148.66 352.78,148.37 352.84,148.08 352.90,147.78 352.96,147.47 353.03,147.16 353.09,146.85 353.15,146.53 353.21,146.21 353.28,145.88 353.34,145.55 353.40,145.21 353.47,144.87 353.53,144.53 353.60,144.18 353.66,143.83 353.72,143.48 353.79,143.12 353.85,142.76 353.92,142.40 353.98,142.03 354.05,141.67 354.11,141.30 354.18,140.92 354.24,140.55 354.31,140.17 354.37,139.80 354.44,139.42 354.50,139.03 354.57,138.65 354.63,138.27 354.70,137.88 354.76,137.50 354.83,137.11 354.89,136.72 354.96,136.34 355.02,135.95 355.08,135.56 355.15,135.17 355.21,134.78 355.27,134.40 355.33,134.01 355.40,133.62 355.46,133.23 355.52,132.85 355.58,132.47 355.64,132.08 355.70,131.70 355.75,131.38 355.80,131.06 355.85,130.73 355.90,130.41 355.95,130.08 356.00,129.75 356.05,129.41 356.10,129.08 356.15,128.74 356.20,128.40 356.24,128.06 356.29,127.72 356.34,127.38 356.39,127.03 356.44,126.69 356.49,126.34 356.54,125.99 356.59,125.64 356.64,125.28 356.68,124.93 356.73,124.58 356.78,124.22 356.83,123.87 356.88,123.51 356.92,123.15 356.97,122.79 357.02,122.43 357.07,122.07 357.12,121.71 357.16,121.35 357.21,120.99 357.26,120.63 357.31,120.27 357.36,119.91 357.40,119.54 357.45,119.18 357.50,118.82 357.54,118.46 357.59,118.10 357.64,117.73 357.69,117.37 357.73,117.01 357.78,116.65 357.83,116.29 357.87,115.93 357.92,115.57 357.97,115.21 358.02,114.86 358.06,114.50 358.11,114.15 358.16,113.79 358.20,113.44 358.25,113.08 358.30,112.73 358.34,112.38 358.39,112.03 358.44,111.69 358.48,111.34 358.53,110.99 358.58,110.65 358.62,110.31 358.67,109.97 358.71,109.63 358.76,109.30 358.81,108.96 358.85,108.63 358.90,108.30 358.95,107.93 359.01,107.55 359.06,107.18 359.11,106.80 359.16,106.42 359.22,106.05 359.27,105.67 359.32,105.29 359.38,104.91 359.43,104.53 359.49,104.16 359.54,103.78 359.59,103.40 359.65,103.02 359.70,102.65 359.75,102.27 359.81,101.89 359.86,101.52 359.92,101.14 359.97,100.77 360.02,100.39 360.08,100.02 360.13,99.65 360.18,99.28 360.24,98.91 360.29,98.54 360.34,98.17 360.40,97.81 360.45,97.44 360.50,97.08 360.55,96.72 360.61,96.36 360.66,96.00 360.71,95.65 360.76,95.29 360.81,94.94 360.86,94.59 360.91,94.24 360.96,93.90 361.01,93.56 361.06,93.22 361.11,92.88 361.16,92.54 361.21,92.21 361.26,91.88 361.31,91.55 361.36,91.23 361.41,90.91 361.45,90.59 361.50,90.28 361.55,89.96 361.59,89.66 361.64,89.35 361.68,89.05 361.73,88.75 361.77,88.46 361.81,88.17 361.86,87.88 361.90,87.60 361.97,87.13 362.04,86.67 362.11,86.22 362.17,85.78 362.24,85.35 362.30,84.92 362.37,84.51 362.43,84.10 362.49,83.69 362.55,83.30 362.61,82.91 362.66,82.53 362.72,82.16 362.78,81.79 362.83,81.43 362.89,81.08 362.94,80.73 363.00,80.39 363.05,80.05 363.10,79.71 363.16,79.39 363.21,79.06 363.26,78.75 363.31,78.43 363.37,78.12 363.42,77.82 363.47,77.51 363.52,77.21 363.58,76.92 363.63,76.63 363.68,76.34 363.74,76.05 363.79,75.76 363.84,75.48 363.90,75.20 363.99,74.74 364.08,74.29 364.17,73.86 364.26,73.44 364.35,73.02 364.44,72.63 364.53,72.24 364.61,71.87 364.70,71.50 364.79,71.15 364.88,70.81 364.96,70.48 365.05,70.17 365.14,69.86 365.23,69.56 365.32,69.28 365.41,69.00 365.51,68.74 365.60,68.48 365.70,68.24 365.80,68.00 366.04,67.49 366.28,67.04 366.53,66.64 366.78,66.30 367.04,66.02 367.30,65.80 367.57,65.64 367.83,65.54 368.10,65.50 368.37,65.53 368.66,65.64 368.95,65.81 369.25,66.04 369.54,66.33 369.83,66.66 370.10,67.02 370.36,67.40 370.60,67.80 370.74,68.05 370.87,68.29 370.98,68.52 371.09,68.75 371.19,68.98 371.29,69.24 371.38,69.52 371.48,69.83 371.58,70.18 371.68,70.58 371.79,71.03 371.92,71.55 372.05,72.13 372.20,72.80 372.25,73.04 372.30,73.28 372.36,73.54 372.41,73.81 372.47,74.09 372.53,74.38 372.59,74.68 372.65,74.98 372.71,75.30 372.77,75.62 372.83,75.95 372.89,76.29 372.96,76.63 373.02,76.98 373.09,77.33 373.15,77.69 373.22,78.06 373.29,78.42 373.35,78.80 373.42,79.17 373.49,79.55 373.56,79.93 373.63,80.31 373.70,80.69 373.77,81.08 373.84,81.46 373.91,81.84 373.98,82.23 374.05,82.61 374.12,82.99 374.18,83.37 374.25,83.75 374.32,84.12 374.39,84.49 374.46,84.86 374.53,85.22 374.60,85.58 374.67,85.93 374.73,86.28 374.80,86.62 374.87,86.95 374.93,87.28 375.00,87.60 375.08,87.98 375.16,88.35 375.23,88.73 375.31,89.10 375.39,89.47 375.47,89.84 375.55,90.20 375.62,90.57 375.70,90.93 375.78,91.29 375.86,91.65 375.94,92.01 376.02,92.37 376.09,92.72 376.17,93.07 376.25,93.42 376.33,93.77 376.41,94.12 376.48,94.46 376.56,94.81 376.64,95.15 376.72,95.48 376.80,95.82 376.87,96.16 376.95,96.49 377.03,96.82 377.11,97.15 377.18,97.47 377.26,97.80 377.34,98.12 377.42,98.44 377.49,98.75 377.57,99.07 377.65,99.38 377.72,99.69 377.80,100.00 377.90,100.39 377.99,100.77 378.09,101.15 378.18,101.52 378.27,101.88 378.36,102.23 378.45,102.58 378.53,102.93 378.62,103.27 378.71,103.61 378.80,103.95 378.89,104.28 378.97,104.61 379.06,104.94 379.15,105.27 379.24,105.59 379.34,105.92 379.43,106.25 379.52,106.58 379.62,106.91 379.72,107.25 379.82,107.58 379.93,107.92 380.04,108.27 380.15,108.62 380.26,108.97 380.38,109.33 380.50,109.70 380.61,110.02 380.71,110.34 380.83,110.66 380.94,110.99 381.06,111.32 381.17,111.66 381.29,112.00 381.42,112.34 381.54,112.68 381.67,113.02 381.79,113.37 381.92,113.72 382.05,114.07 382.18,114.42 382.31,114.76 382.45,115.11 382.58,115.46 382.71,115.81 382.85,116.16 382.98,116.50 383.12,116.84 383.25,117.19 383.39,117.52 383.52,117.86 383.66,118.19 383.79,118.52 383.92,118.85 384.05,118.85 385.18,121.64 386.28,123.53 387.38,126.79 388.48,128.12 389.59,130.28 390.78,132.08 391.96,133.38 393.10,135.96 394.23,137.68 395.33,138.70 396.50,141.11 397.58,141.92 398.73,143.92 399.89,145.79 401.08,147.08 402.14,147.87 403.20,148.82 404.35,147.70 405.56,150.42 406.76,150.78 408.05,151.41 409.38,151.98 410.68,152.94 412.00,153.68 413.00,154.32 414.00,153.35 415.00,155.21 416.00,155.07 417.00,154.95 418.05,155.68 419.08,155.32 420.11,155.53 421.16,155.25 422.25,156.79 423.32,156.11 424.61,156.33 425.91,156.89 426.94,157.82 428.02,157.98 429.17,157.01 430.27,157.07 431.36,157.89 432.68,156.52 433.83,157.89 435.40,158.62 437.43,158.13 438.64,158.36 440.00,158.27 441.06,158.70 442.23,158.13 443.24,157.91 444.32,158.70 445.46,157.33 446.66,157.29 447.92,157.35 449.23,158.21 450.24,158.07 451.28,157.72 452.35,158.47 453.43,157.96 454.55,158.37 455.68,158.10 456.83,158.11 458.00,158.03 459.19,157.57 460.40,158.55 461.62,157.94 462.85,157.96 464.10,158.20 465.35,157.80 466.62,158.08 467.89,158.21 469.17,157.89 470.46,158.46 471.74,158.23 473.04,157.83 474.33,157.92 475.62,158.69 476.92,158.02 478.21,158.46 479.50,157.19 480.78,158.64 482.05,158.11 483.32,158.19 484.58,157.99 485.83,158.70 487.06,158.70 488.29,158.70 489.50,157.96 490.69,158.70 491.87,158.32 493.03,158.10 494.16,157.78 495.28,158.04 496.38,157.75 497.45,158.53 498.50,158.70 499.52,157.29 500.84,157.90 502.11,158.49 503.32,158.19 504.47,158.43 505.57,158.00 506.59,158.27 507.78,158.12 508.86,158.34 510.00,157.91" fill="none" stroke="#14487e" stroke-width="1.1" stroke-linejoin="round"/>
<polyline points="326.00,158.40 326.19,158.40 326.39,158.40 326.62,158.40 326.87,158.39 327.13,158.39 327.42,158.39 327.72,158.39 328.03,158.39 328.36,158.39 328.70,158.39 329.06,158.39 329.42,158.38 329.80,158.38 330.18,158.38 330.58,158.38 330.98,158.38 331.38,158.37 331.79,158.37 332.21,158.37 332.62,158.37 333.04,158.37 333.46,158.36 333.89,158.36 334.30,158.36 334.72,158.36 335.13,158.35 335.54,158.35 335.95,158.35 336.34,158.34 336.73,158.34 337.12,158.34 337.49,158.33 337.85,158.33 338.20,158.33 338.54,158.32 338.86,158.32 339.17,158.31 339.46,158.31 339.74,158.30 340.00,158.30 340.56,158.29 341.07,158.28 341.54,158.27 341.96,158.26 342.35,158.25 342.71,158.24 343.04,158.23 343.35,158.22 343.65,158.21 343.93,158.19 344.20,158.17 344.48,158.15 344.76,158.13 345.04,158.10 345.34,158.07 345.66,158.04 346.00,158.00 346.35,157.96 346.71,157.91 347.06,157.86 347.41,157.80 347.76,157.75 348.12,157.69 348.47,157.62 348.82,157.56 349.18,157.49 349.53,157.42 349.88,157.35 350.24,157.28 350.59,157.20 350.94,157.13 351.29,157.05 351.65,156.98 352.00,156.90 352.35,156.82 352.71,156.74 353.07,156.66 353.42,156.58 353.78,156.50 354.14,156.41 354.50,156.33 354.85,156.24 355.21,156.15 355.57,156.06 355.92,155.97 356.27,155.88 356.62,155.78 356.97,155.69 357.32,155.59 357.66,155.50 358.00,155.40 358.36,155.30 358.73,155.21 359.11,155.11 359.49,155.03 359.87,154.94 360.25,154.85 360.62,154.76 360.99,154.66 361.36,154.56 361.71,154.46 362.05,154.34 362.38,154.22 362.69,154.08 362.98,153.94 363.25,153.78 363.50,153.60 363.77,153.40 364.01,153.23 364.21,153.09 364.38,152.96 364.54,152.81 364.67,152.65 364.80,152.44 364.92,152.18 365.04,151.85 365.16,151.43 365.29,150.91 365.43,150.27 365.60,149.50 365.65,149.28 365.69,149.05 365.74,148.81 365.78,148.56 365.83,148.31 365.88,148.04 365.92,147.77 365.97,147.49 366.02,147.20 366.06,146.90 366.11,146.60 366.16,146.29 366.21,145.97 366.25,145.64 366.30,145.31 366.35,144.98 366.40,144.64 366.45,144.29 366.50,143.94 366.55,143.58 366.60,143.22 366.65,142.86 366.69,142.49 366.74,142.11 366.79,141.74 366.84,141.36 366.89,140.98 366.94,140.59 366.99,140.21 367.04,139.82 367.09,139.43 367.14,139.04 367.19,138.65 367.24,138.25 367.29,137.86 367.35,137.46 367.40,137.07 367.45,136.68 367.50,136.28 367.55,135.89 367.60,135.50 367.65,135.11 367.70,134.72 367.75,134.33 367.80,133.95 367.85,133.56 367.90,133.18 367.95,132.81 368.00,132.44 368.05,132.07 368.10,131.70 368.15,131.36 368.19,131.02 368.24,130.68 368.29,130.34 368.33,129.99 368.38,129.64 368.43,129.30 368.48,128.95 368.52,128.60 368.57,128.24 368.62,127.89 368.67,127.54 368.72,127.18 368.76,126.83 368.81,126.47 368.86,126.11 368.91,125.75 368.96,125.39 369.01,125.03 369.05,124.67 369.10,124.31 369.15,123.95 369.20,123.59 369.25,123.23 369.30,122.87 369.35,122.51 369.39,122.15 369.44,121.79 369.49,121.43 369.54,121.07 369.59,120.71 369.64,120.35 369.68,119.99 369.73,119.63 369.78,119.28 369.83,118.92 369.88,118.56 369.92,118.21 369.97,117.85 370.02,117.50 370.06,117.15 370.11,116.80 370.16,116.45 370.20,116.10 370.25,115.76 370.30,115.41 370.34,115.07 370.39,114.73 370.43,114.39 370.48,114.05 370.52,113.72 370.57,113.39 370.61,113.06 370.66,112.73 370.70,112.40 370.75,112.02 370.80,111.64 370.85,111.27 370.90,110.89 370.95,110.52 371.00,110.15 371.05,109.78 371.10,109.41 371.15,109.05 371.20,108.68 371.25,108.32 371.29,107.96 371.34,107.60 371.39,107.24 371.44,106.88 371.49,106.53 371.53,106.17 371.58,105.82 371.63,105.47 371.67,105.11 371.72,104.76 371.77,104.42 371.81,104.07 371.86,103.72 371.91,103.37 371.95,103.03 372.00,102.68 372.04,102.34 372.09,102.00 372.14,101.66 372.18,101.31 372.23,100.97 372.27,100.63 372.32,100.29 372.36,99.95 372.41,99.61 372.45,99.28 372.50,98.94 372.54,98.60 372.59,98.26 372.63,97.92 372.68,97.59 372.72,97.25 372.77,96.91 372.81,96.57 372.86,96.24 372.90,95.90 372.95,95.53 373.00,95.16 373.05,94.79 373.09,94.42 373.14,94.05 373.19,93.68 373.23,93.31 373.28,92.94 373.33,92.56 373.37,92.19 373.42,91.82 373.47,91.45 373.51,91.08 373.56,90.71 373.60,90.34 373.65,89.97 373.70,89.61 373.74,89.24 373.79,88.88 373.83,88.51 373.88,88.15 373.92,87.79 373.97,87.43 374.01,87.07 374.06,86.71 374.10,86.36 374.15,86.01 374.20,85.65 374.24,85.31 374.29,84.96 374.33,84.62 374.38,84.27 374.43,83.93 374.47,83.60 374.52,83.26 374.57,82.93 374.61,82.60 374.66,82.28 374.71,81.96 374.75,81.64 374.80,81.32 374.85,81.01 374.90,80.70 374.97,80.29 375.03,79.88 375.09,79.47 375.16,79.06 375.22,78.65 375.29,78.25 375.35,77.84 375.41,77.44 375.48,77.05 375.54,76.65 375.61,76.26 375.67,75.88 375.74,75.50 375.80,75.12 375.87,74.75 375.93,74.38 376.00,74.02 376.06,73.67 376.13,73.32 376.20,72.97 376.27,72.64 376.34,72.31 376.41,71.99 376.48,71.68 376.55,71.37 376.63,71.08 376.70,70.79 376.78,70.51 376.86,70.25 376.94,69.99 377.02,69.74 377.10,69.50 377.31,68.95 377.53,68.44 377.75,67.97 377.99,67.54 378.23,67.16 378.47,66.82 378.72,66.53 378.97,66.28 379.22,66.09 379.47,65.94 379.71,65.84 379.96,65.80 380.20,65.80 380.41,65.85 380.62,65.95 380.84,66.10 381.06,66.29 381.27,66.53 381.49,66.79 381.71,67.09 381.93,67.43 382.14,67.78 382.35,68.16 382.55,68.56 382.75,68.98 382.94,69.41 383.13,69.85 383.30,70.30 383.40,70.57 383.49,70.84 383.58,71.13 383.67,71.43 383.75,71.74 383.83,72.06 383.91,72.38 383.99,72.71 384.07,73.05 384.14,73.40 384.22,73.75 384.29,74.11 384.36,74.47 384.43,74.84 384.50,75.21 384.57,75.58 384.64,75.96 384.71,76.33 384.78,76.71 384.85,77.08 384.93,77.46 385.00,77.83 385.07,78.20 385.15,78.57 385.22,78.94 385.30,79.30 385.37,79.63 385.45,79.97 385.52,80.31 385.59,80.65 385.67,80.99 385.74,81.33 385.82,81.68 385.89,82.02 385.97,82.37 386.04,82.72 386.12,83.06 386.19,83.41 386.27,83.76 386.34,84.11 386.42,84.46 386.49,84.81 386.57,85.16 386.65,85.51 386.72,85.87 386.80,86.22 386.87,86.57 386.95,86.92 387.02,87.26 387.10,87.61 387.17,87.96 387.25,88.31 387.32,88.65 387.40,89.00 387.47,89.35 387.55,89.69 387.62,90.04 387.70,90.39 387.77,90.74 387.85,91.09 387.92,91.44 388.00,91.79 388.07,92.14 388.15,92.49 388.22,92.84 388.30,93.19 388.38,93.54 388.45,93.89 388.52,94.24 388.60,94.58 388.67,94.93 388.75,95.27 388.82,95.61 388.90,95.95 388.97,96.29 389.05,96.63 389.12,96.97 389.20,97.30 389.27,97.63 389.35,97.95 389.42,98.28 389.50,98.60 389.59,98.97 389.68,99.34 389.76,99.71 389.85,100.07 389.94,100.43 390.03,100.79 390.12,101.15 390.20,101.50 390.29,101.85 390.38,102.20 390.47,102.55 390.56,102.89 390.64,103.24 390.73,103.58 390.82,103.92 390.91,104.26 390.99,104.59 391.08,104.93 391.17,105.26 391.26,105.59 391.34,105.92 391.43,106.25 391.51,106.57 391.60,106.90 391.70,107.27 391.80,107.64 391.90,108.01 392.00,108.39 392.10,106.82 393.17,110.56 394.24,117.33 395.30,120.65 396.35,123.24 397.43,124.21 398.58,129.25 399.68,131.40 400.85,132.65 401.96,135.24 403.10,137.41 404.20,137.84 405.32,140.43 406.39,141.13 407.50,142.34 408.54,144.69 409.61,144.76 410.78,146.16 411.88,147.46 413.00,147.59 414.17,147.09 415.39,148.95 416.63,150.26 417.94,150.79 418.94,150.97 420.26,151.35 421.50,151.92 422.58,152.54 423.89,153.89 425.24,154.13 426.31,152.55 427.57,155.21 428.90,154.73 429.96,154.89 431.10,154.92 432.20,156.49 433.29,156.44 434.36,155.48 435.53,157.18 436.59,156.41 437.86,156.86 439.41,156.44 440.51,155.25 441.60,157.61 442.80,155.02 444.08,157.40 445.09,154.07 446.14,156.88 447.22,155.22 448.32,156.45 449.44,157.05 450.59,156.13 451.74,157.54 452.89,157.90 454.05,156.72 455.20,156.41 456.34,156.76 457.47,157.70 458.57,156.44 459.65,156.78 460.70,156.78 461.72,154.17 462.72,157.32 464.04,157.07 465.33,157.47 466.62,157.62 467.91,156.57 469.21,157.82 470.54,157.89 471.55,157.46 472.59,157.44 473.66,157.25 474.76,157.50 475.89,157.88 477.07,156.52 478.29,157.94 479.56,156.47 480.60,156.61 481.88,156.37 482.90,157.42 483.97,157.60 485.08,154.30 486.23,156.44 487.40,156.61 488.60,157.68 489.82,157.31 491.06,156.75 492.30,156.97 493.55,157.68 494.80,156.43 496.04,157.40 497.27,157.84 498.49,156.68 499.68,157.69 500.84,156.48 501.98,156.02 503.07,157.08 504.12,156.98 505.12,157.26 506.37,154.72 507.52,157.91 508.54,157.19 509.63,155.35" fill="none" stroke="#5c2262" stroke-width="1.1" stroke-linejoin="round"/>
<line x1="52.40" y1="273.00" x2="52.40" y2="408.20" stroke="#141414" stroke-width="1.5"/>
<line x1="47.20" y1="407.50" x2="247.00" y2="407.50" stroke="#141414" stroke-width="1.5"/>
<line x1="47.20" y1="278.50" x2="52.40" y2="278.50" stroke="#141414" stroke-width="1.45"/>
<text x="42.50" y="282.35" font-size="11.2" text-anchor="end" textLength="19.99" lengthAdjust="spacingAndGlyphs" stroke="#231f20" stroke-width="0.2">200</text>
<line x1="47.20" y1="310.80" x2="52.40" y2="310.80" stroke="#141414" stroke-width="1.45"/>
<text x="42.50" y="314.65" font-size="11.2" text-anchor="end" textLength="19.99" lengthAdjust="spacingAndGlyphs" stroke="#231f20" stroke-width="0.2">150</text>
<line x1="47.20" y1="343.10" x2="52.40" y2="343.10" stroke="#141414" stroke-width="1.45"/>
<text x="42.50" y="346.95" font-size="11.2" text-anchor="end" textLength="19.99" lengthAdjust="spacingAndGlyphs" stroke="#231f20" stroke-width="0.2">100</text>
<line x1="47.20" y1="375.40" x2="52.40" y2="375.40" stroke="#141414" stroke-width="1.45"/>
<text x="42.50" y="379.25" font-size="11.2" text-anchor="end" textLength="13.33" lengthAdjust="spacingAndGlyphs" stroke="#231f20" stroke-width="0.2">50</text>
<line x1="47.20" y1="407.70" x2="52.40" y2="407.70" stroke="#141414" stroke-width="1.45"/>
<text x="42.50" y="411.55" font-size="11.2" text-anchor="end" textLength="6.66" lengthAdjust="spacingAndGlyphs" stroke="#231f20" stroke-width="0.2">0</text>
<rect x="61.00" y="312.10" width="31.70" height="94.80" fill="#c4002a"/>
<line x1="76.85" y1="312.10" x2="76.85" y2="304.40" stroke="#141414" stroke-width="1.3"/>
<line x1="68.65" y1="304.40" x2="85.05" y2="304.40" stroke="#141414" stroke-width="1.3"/>
<line x1="76.85" y1="407.50" x2="76.85" y2="412.00" stroke="#141414" stroke-width="1.45"/>
<text transform="translate(80.85,421.80) rotate(-45)" x="0" y="0" font-size="11.6" text-anchor="end" stroke="#231f20" stroke-width="0.2">WT</text>
<rect x="109.50" y="313.10" width="31.90" height="93.80" fill="#14487e"/>
<line x1="125.45" y1="313.10" x2="125.45" y2="309.40" stroke="#141414" stroke-width="1.3"/>
<line x1="117.25" y1="309.40" x2="133.65" y2="309.40" stroke="#141414" stroke-width="1.3"/>
<line x1="125.45" y1="407.50" x2="125.45" y2="412.00" stroke="#141414" stroke-width="1.45"/>
<text transform="translate(129.45,421.80) rotate(-45)" x="0" y="0" font-size="11.6" text-anchor="end" stroke="#231f20" stroke-width="0.2">R147A</text>
<rect x="158.00" y="312.50" width="32.00" height="94.40" fill="#37a936"/>
<line x1="174.00" y1="312.50" x2="174.00" y2="305.40" stroke="#141414" stroke-width="1.3"/>
<line x1="165.80" y1="305.40" x2="182.20" y2="305.40" stroke="#141414" stroke-width="1.3"/>
<line x1="174.00" y1="407.50" x2="174.00" y2="412.00" stroke="#141414" stroke-width="1.45"/>
<text transform="translate(178.00,421.80) rotate(-45)" x="0" y="0" font-size="11.6" text-anchor="end" stroke="#231f20" stroke-width="0.2">K192A</text>
<rect x="206.40" y="307.80" width="32.10" height="99.10" fill="#5c2262"/>
<line x1="222.45" y1="307.80" x2="222.45" y2="302.90" stroke="#141414" stroke-width="1.3"/>
<line x1="214.25" y1="302.90" x2="230.65" y2="302.90" stroke="#141414" stroke-width="1.3"/>
<line x1="222.45" y1="407.50" x2="222.45" y2="412.00" stroke="#141414" stroke-width="1.45"/>
<text transform="translate(226.45,421.80) rotate(-45)" x="0" y="0" font-size="11.6" text-anchor="end" stroke="#231f20" stroke-width="0.2">R147A/K192A</text>
<text transform="translate(14.00,340.60) rotate(-90)" x="0" y="0" font-size="13" text-anchor="middle" stroke="#231f20" stroke-width="0.3" textLength="84.40" lengthAdjust="spacingAndGlyphs">Peak thrombin (nM)</text>
<text x="1.80" y="263.80" font-size="16" text-anchor="start" font-weight="bold" stroke="#111" stroke-width="0.45">C</text>
<line x1="326.20" y1="273.70" x2="326.20" y2="408.20" stroke="#141414" stroke-width="1.5"/>
<line x1="321.00" y1="407.50" x2="520.00" y2="407.50" stroke="#141414" stroke-width="1.5"/>
<line x1="321.00" y1="278.50" x2="326.20" y2="278.50" stroke="#141414" stroke-width="1.45"/>
<text x="315.60" y="282.35" font-size="11.2" text-anchor="end" textLength="26.66" lengthAdjust="spacingAndGlyphs" stroke="#231f20" stroke-width="0.2">1500</text>
<line x1="321.00" y1="321.50" x2="326.20" y2="321.50" stroke="#141414" stroke-width="1.45"/>
<text x="315.60" y="325.35" font-size="11.2" text-anchor="end" textLength="26.66" lengthAdjust="spacingAndGlyphs" stroke="#231f20" stroke-width="0.2">1000</text>
<line x1="321.00" y1="364.50" x2="326.20" y2="364.50" stroke="#141414" stroke-width="1.45"/>
<text x="315.60" y="368.35" font-size="11.2" text-anchor="end" textLength="19.99" lengthAdjust="spacingAndGlyphs" stroke="#231f20" stroke-width="0.2">500</text>
<line x1="321.00" y1="407.50" x2="326.20" y2="407.50" stroke="#141414" stroke-width="1.45"/>
<text x="315.60" y="411.35" font-size="11.2" text-anchor="end" textLength="6.66" lengthAdjust="spacingAndGlyphs" stroke="#231f20" stroke-width="0.2">0</text>
<rect x="334.40" y="289.40" width="31.50" height="117.50" fill="#c4002a"/>
<line x1="350.15" y1="289.40" x2="350.15" y2="286.50" stroke="#141414" stroke-width="1.3"/>
<line x1="341.95" y1="286.50" x2="358.35" y2="286.50" stroke="#141414" stroke-width="1.3"/>
<line x1="350.15" y1="407.50" x2="350.15" y2="412.00" stroke="#141414" stroke-width="1.45"/>
<text transform="translate(354.15,421.80) rotate(-45)" x="0" y="0" font-size="11.6" text-anchor="end" stroke="#231f20" stroke-width="0.2">WT</text>
<rect x="383.00" y="290.00" width="31.90" height="116.90" fill="#14487e"/>
<line x1="398.95" y1="290.00" x2="398.95" y2="289.10" stroke="#141414" stroke-width="1.3"/>
<line x1="390.75" y1="289.10" x2="407.15" y2="289.10" stroke="#141414" stroke-width="1.3"/>
<line x1="398.95" y1="407.50" x2="398.95" y2="412.00" stroke="#141414" stroke-width="1.45"/>
<text transform="translate(402.95,421.80) rotate(-45)" x="0" y="0" font-size="11.6" text-anchor="end" stroke="#231f20" stroke-width="0.2">R147A</text>
<rect x="431.40" y="292.50" width="31.70" height="114.40" fill="#37a936"/>
<line x1="447.25" y1="292.50" x2="447.25" y2="290.00" stroke="#141414" stroke-width="1.3"/>
<line x1="439.05" y1="290.00" x2="455.45" y2="290.00" stroke="#141414" stroke-width="1.3"/>
<line x1="447.25" y1="407.50" x2="447.25" y2="412.00" stroke="#141414" stroke-width="1.45"/>
<text transform="translate(451.25,421.80) rotate(-45)" x="0" y="0" font-size="11.6" text-anchor="end" stroke="#231f20" stroke-width="0.2">K192A</text>
<rect x="480.20" y="296.20" width="31.50" height="110.70" fill="#5c2262"/>
<line x1="495.95" y1="296.20" x2="495.95" y2="293.10" stroke="#141414" stroke-width="1.3"/>
<line x1="487.75" y1="293.10" x2="504.15" y2="293.10" stroke="#141414" stroke-width="1.3"/>
<line x1="495.95" y1="407.50" x2="495.95" y2="412.00" stroke="#141414" stroke-width="1.45"/>
<text transform="translate(499.95,421.80) rotate(-45)" x="0" y="0" font-size="11.6" text-anchor="end" stroke="#231f20" stroke-width="0.2">R147A/K192A</text>
<text transform="translate(280.20,340.30) rotate(-90)" x="0" y="0" font-size="13" text-anchor="middle" stroke="#231f20" stroke-width="0.3" textLength="57.60" lengthAdjust="spacingAndGlyphs">ETP (nM·min)</text>
<text x="270.20" y="263.80" font-size="16" text-anchor="start" font-weight="bold" stroke="#111" stroke-width="0.45">D</text>
<line x1="52.60" y1="522.70" x2="52.60" y2="657.30" stroke="#141414" stroke-width="1.5"/>
<line x1="47.40" y1="656.60" x2="246.50" y2="656.60" stroke="#141414" stroke-width="1.5"/>
<line x1="47.40" y1="527.50" x2="52.60" y2="527.50" stroke="#141414" stroke-width="1.45"/>
<text x="42.30" y="531.35" font-size="11.2" text-anchor="end" textLength="13.33" lengthAdjust="spacingAndGlyphs" stroke="#231f20" stroke-width="0.2">25</text>
<line x1="47.40" y1="553.35" x2="52.60" y2="553.35" stroke="#141414" stroke-width="1.45"/>
<text x="42.30" y="557.20" font-size="11.2" text-anchor="end" textLength="13.33" lengthAdjust="spacingAndGlyphs" stroke="#231f20" stroke-width="0.2">20</text>
<line x1="47.40" y1="579.20" x2="52.60" y2="579.20" stroke="#141414" stroke-width="1.45"/>
<text x="42.30" y="583.05" font-size="11.2" text-anchor="end" textLength="13.33" lengthAdjust="spacingAndGlyphs" stroke="#231f20" stroke-width="0.2">15</text>
<line x1="47.40" y1="605.05" x2="52.60" y2="605.05" stroke="#141414" stroke-width="1.45"/>
<text x="42.30" y="608.90" font-size="11.2" text-anchor="end" textLength="13.33" lengthAdjust="spacingAndGlyphs" stroke="#231f20" stroke-width="0.2">10</text>
<line x1="47.40" y1="630.90" x2="52.60" y2="630.90" stroke="#141414" stroke-width="1.45"/>
<text x="42.30" y="634.75" font-size="11.2" text-anchor="end" textLength="6.66" lengthAdjust="spacingAndGlyphs" stroke="#231f20" stroke-width="0.2">5</text>
<line x1="47.40" y1="656.75" x2="52.60" y2="656.75" stroke="#141414" stroke-width="1.45"/>
<text x="42.30" y="660.60" font-size="11.2" text-anchor="end" textLength="6.66" lengthAdjust="spacingAndGlyphs" stroke="#231f20" stroke-width="0.2">0</text>
<rect x="61.00" y="621.90" width="31.70" height="34.10" fill="#c4002a"/>
<line x1="76.85" y1="621.90" x2="76.85" y2="621.30" stroke="#141414" stroke-width="1.3"/>
<line x1="68.65" y1="621.30" x2="85.05" y2="621.30" stroke="#141414" stroke-width="1.3"/>
<line x1="76.85" y1="656.60" x2="76.85" y2="661.10" stroke="#141414" stroke-width="1.45"/>
<text transform="translate(80.85,670.90) rotate(-45)" x="0" y="0" font-size="11.6" text-anchor="end" stroke="#231f20" stroke-width="0.2">WT</text>
<rect x="109.50" y="606.20" width="31.90" height="49.80" fill="#14487e"/>
<line x1="125.45" y1="606.20" x2="125.45" y2="603.70" stroke="#141414" stroke-width="1.3"/>
<line x1="117.25" y1="603.70" x2="133.65" y2="603.70" stroke="#141414" stroke-width="1.3"/>
<line x1="125.45" y1="656.60" x2="125.45" y2="661.10" stroke="#141414" stroke-width="1.45"/>
<text x="123.30" y="601.75" font-size="7.6" text-anchor="middle" stroke="#231f20" stroke-width="0.35">*</text>
<text x="127.60" y="601.75" font-size="7.6" text-anchor="middle" stroke="#231f20" stroke-width="0.35">*</text>
<text transform="translate(129.45,670.90) rotate(-45)" x="0" y="0" font-size="11.6" text-anchor="end" stroke="#231f20" stroke-width="0.2">R147A</text>
<rect x="158.00" y="604.60" width="32.00" height="51.40" fill="#37a936"/>
<line x1="174.00" y1="604.60" x2="174.00" y2="601.50" stroke="#141414" stroke-width="1.3"/>
<line x1="165.80" y1="601.50" x2="182.20" y2="601.50" stroke="#141414" stroke-width="1.3"/>
<line x1="174.00" y1="656.60" x2="174.00" y2="661.10" stroke="#141414" stroke-width="1.45"/>
<text x="171.85" y="600.15" font-size="7.6" text-anchor="middle" stroke="#231f20" stroke-width="0.35">*</text>
<text x="176.15" y="600.15" font-size="7.6" text-anchor="middle" stroke="#231f20" stroke-width="0.35">*</text>
<text transform="translate(178.00,670.90) rotate(-45)" x="0" y="0" font-size="11.6" text-anchor="end" stroke="#231f20" stroke-width="0.2">K192A</text>
<rect x="206.40" y="587.70" width="32.10" height="68.30" fill="#5c2262"/>
<line x1="222.45" y1="587.70" x2="222.45" y2="575.40" stroke="#141414" stroke-width="1.3"/>
<line x1="214.25" y1="575.40" x2="230.65" y2="575.40" stroke="#141414" stroke-width="1.3"/>
<line x1="222.45" y1="656.60" x2="222.45" y2="661.10" stroke="#141414" stroke-width="1.45"/>
<text x="222.45" y="573.25" font-size="7.6" text-anchor="middle" stroke="#231f20" stroke-width="0.35">*</text>
<text transform="translate(226.45,670.90) rotate(-45)" x="0" y="0" font-size="11.6" text-anchor="end" stroke="#231f20" stroke-width="0.2">R147A/K192A</text>
<text transform="translate(21.40,589.70) rotate(-90)" x="0" y="0" font-size="13" text-anchor="middle" stroke="#231f20" stroke-width="0.3" textLength="62.80" lengthAdjust="spacingAndGlyphs">Lag time (min)</text>
<text x="2.80" y="512.90" font-size="16" text-anchor="start" font-weight="bold" stroke="#111" stroke-width="0.45">E</text>
<line x1="326.20" y1="522.30" x2="326.20" y2="657.30" stroke="#141414" stroke-width="1.5"/>
<line x1="321.00" y1="656.60" x2="520.00" y2="656.60" stroke="#141414" stroke-width="1.5"/>
<line x1="321.00" y1="527.50" x2="326.20" y2="527.50" stroke="#141414" stroke-width="1.45"/>
<text x="316.30" y="531.35" font-size="11.2" text-anchor="end" textLength="13.33" lengthAdjust="spacingAndGlyphs" stroke="#231f20" stroke-width="0.2">25</text>
<line x1="321.00" y1="553.35" x2="326.20" y2="553.35" stroke="#141414" stroke-width="1.45"/>
<text x="316.30" y="557.20" font-size="11.2" text-anchor="end" textLength="13.33" lengthAdjust="spacingAndGlyphs" stroke="#231f20" stroke-width="0.2">20</text>
<line x1="321.00" y1="579.20" x2="326.20" y2="579.20" stroke="#141414" stroke-width="1.45"/>
<text x="316.30" y="583.05" font-size="11.2" text-anchor="end" textLength="13.33" lengthAdjust="spacingAndGlyphs" stroke="#231f20" stroke-width="0.2">15</text>
<line x1="321.00" y1="605.05" x2="326.20" y2="605.05" stroke="#141414" stroke-width="1.45"/>
<text x="316.30" y="608.90" font-size="11.2" text-anchor="end" textLength="13.33" lengthAdjust="spacingAndGlyphs" stroke="#231f20" stroke-width="0.2">10</text>
<line x1="321.00" y1="630.90" x2="326.20" y2="630.90" stroke="#141414" stroke-width="1.45"/>
<text x="316.30" y="634.75" font-size="11.2" text-anchor="end" textLength="6.66" lengthAdjust="spacingAndGlyphs" stroke="#231f20" stroke-width="0.2">5</text>
<line x1="321.00" y1="656.75" x2="326.20" y2="656.75" stroke="#141414" stroke-width="1.45"/>
<text x="316.30" y="660.60" font-size="11.2" text-anchor="end" textLength="6.66" lengthAdjust="spacingAndGlyphs" stroke="#231f20" stroke-width="0.2">0</text>
<rect x="334.40" y="596.90" width="31.50" height="59.10" fill="#c4002a"/>
<line x1="350.15" y1="596.90" x2="350.15" y2="594.60" stroke="#141414" stroke-width="1.3"/>
<line x1="341.95" y1="594.60" x2="358.35" y2="594.60" stroke="#141414" stroke-width="1.3"/>
<line x1="350.15" y1="656.60" x2="350.15" y2="661.10" stroke="#141414" stroke-width="1.45"/>
<text transform="translate(354.15,670.90) rotate(-45)" x="0" y="0" font-size="11.6" text-anchor="end" stroke="#231f20" stroke-width="0.2">WT</text>
<rect x="383.00" y="581.90" width="31.90" height="74.10" fill="#14487e"/>
<line x1="398.95" y1="581.90" x2="398.95" y2="578.80" stroke="#141414" stroke-width="1.3"/>
<line x1="390.75" y1="578.80" x2="407.15" y2="578.80" stroke="#141414" stroke-width="1.3"/>
<line x1="398.95" y1="656.60" x2="398.95" y2="661.10" stroke="#141414" stroke-width="1.45"/>
<text x="398.95" y="576.25" font-size="7.6" text-anchor="middle" stroke="#231f20" stroke-width="0.35">*</text>
<text transform="translate(402.95,670.90) rotate(-45)" x="0" y="0" font-size="11.6" text-anchor="end" stroke="#231f20" stroke-width="0.2">R147A</text>
<rect x="431.40" y="580.00" width="31.70" height="76.00" fill="#37a936"/>
<line x1="447.25" y1="580.00" x2="447.25" y2="575.80" stroke="#141414" stroke-width="1.3"/>
<line x1="439.05" y1="575.80" x2="455.45" y2="575.80" stroke="#141414" stroke-width="1.3"/>
<line x1="447.25" y1="656.60" x2="447.25" y2="661.10" stroke="#141414" stroke-width="1.45"/>
<text x="447.25" y="574.25" font-size="7.6" text-anchor="middle" stroke="#231f20" stroke-width="0.35">*</text>
<text transform="translate(451.25,670.90) rotate(-45)" x="0" y="0" font-size="11.6" text-anchor="end" stroke="#231f20" stroke-width="0.2">K192A</text>
<rect x="480.20" y="566.20" width="31.50" height="89.80" fill="#5c2262"/>
<line x1="495.95" y1="566.20" x2="495.95" y2="553.80" stroke="#141414" stroke-width="1.3"/>
<line x1="487.75" y1="553.80" x2="504.15" y2="553.80" stroke="#141414" stroke-width="1.3"/>
<line x1="495.95" y1="656.60" x2="495.95" y2="661.10" stroke="#141414" stroke-width="1.45"/>
<text x="495.95" y="552.15" font-size="7.6" text-anchor="middle" stroke="#231f20" stroke-width="0.35">*</text>
<text transform="translate(499.95,670.90) rotate(-45)" x="0" y="0" font-size="11.6" text-anchor="end" stroke="#231f20" stroke-width="0.2">R147A/K192A</text>
<text transform="translate(294.20,590.30) rotate(-90)" x="0" y="0" font-size="13" text-anchor="middle" stroke="#231f20" stroke-width="0.3" textLength="80.90" lengthAdjust="spacingAndGlyphs">Time to peak (min)</text>
<text x="271.00" y="512.90" font-size="16" text-anchor="start" font-weight="bold" stroke="#111" stroke-width="0.45">F</text>
</svg>
</body></html>
